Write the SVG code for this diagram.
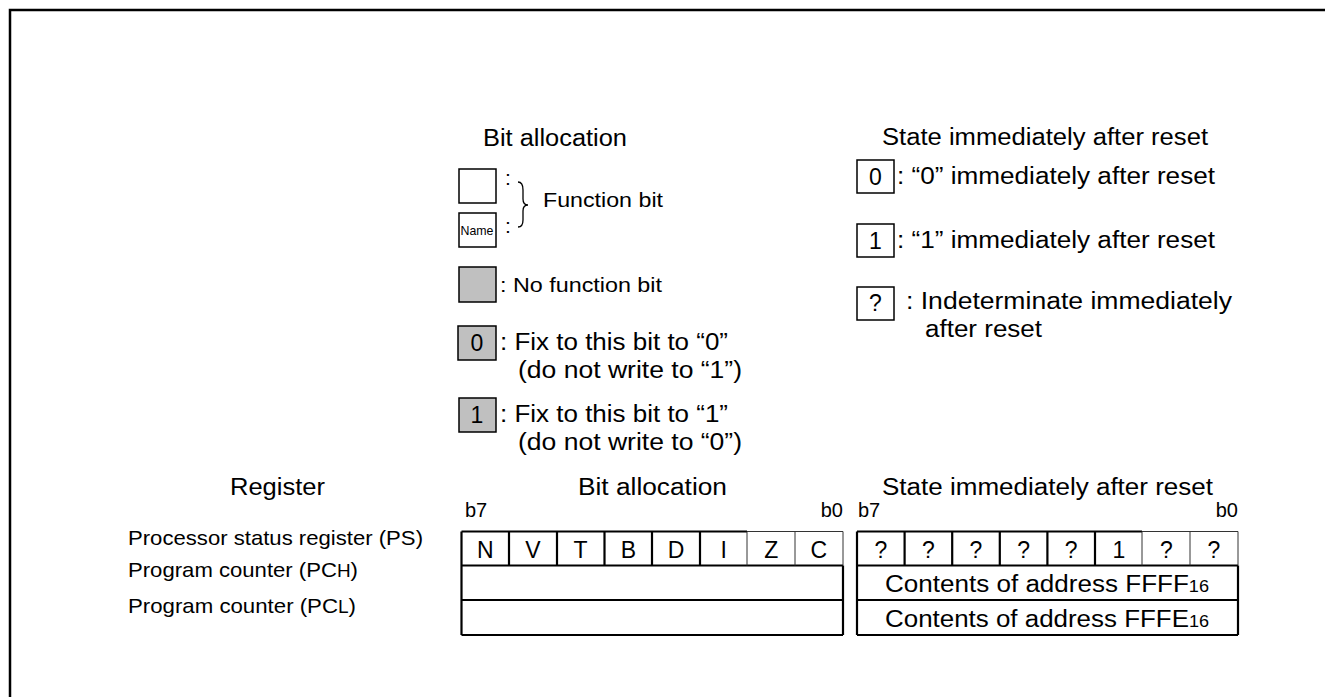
<svg xmlns="http://www.w3.org/2000/svg" width="1325" height="697" viewBox="0 0 1325 697">
<style>
text{font-family:"Liberation Sans",Arial,sans-serif;fill:#000}
.m{font-size:23px}
.s{font-size:21px}
.b{font-size:20px}
.c{text-anchor:middle;font-size:23px}
.box{fill:#fff;stroke:#000;stroke-width:1.5}
.grey{fill:#c0c0c0;stroke:#000;stroke-width:1.5}
.thick{stroke:#000;stroke-width:2.2;fill:none}
.thin{stroke:#333;stroke-width:1;fill:none}
</style>
<rect x="0" y="0" width="1325" height="697" fill="#fff"/>
<path d="M10,697 V10 H1325" fill="none" stroke="#000" stroke-width="2.5"/>

<g id="legend-bit-allocation">
  <text class="m" x="483" y="146" textLength="144" lengthAdjust="spacingAndGlyphs">Bit allocation</text>
  <rect class="box" x="459" y="169" width="37" height="34"/>
  <text class="s" x="505" y="185">:</text>
  <rect class="box" x="459" y="213" width="37" height="34"/>
  <text x="477" y="235" text-anchor="middle" font-size="13" textLength="33" lengthAdjust="spacingAndGlyphs">Name</text>
  <text class="s" x="505" y="233">:</text>
  <path d="M518,182 Q523,182 523,190 L523,199 Q523,205 528,205 Q523,205 523,211 L523,220 Q523,227 518,227" fill="none" stroke="#000" stroke-width="1.3"/>
  <text class="s" x="543" y="207" textLength="120" lengthAdjust="spacingAndGlyphs">Function  bit</text>
  <rect class="grey" x="459" y="267" width="37" height="35"/>
  <text class="s" x="500" y="292" textLength="162" lengthAdjust="spacingAndGlyphs">: No function bit</text>
  <rect class="grey" x="458" y="326" width="38" height="34"/>
  <text class="c" x="477" y="351">0</text>
  <text class="m" x="500" y="350" textLength="228" lengthAdjust="spacingAndGlyphs">: Fix to this bit to “0”</text>
  <text class="m" x="518" y="378" textLength="224" lengthAdjust="spacingAndGlyphs">(do not write to “1”)</text>
  <rect class="grey" x="459" y="398" width="37" height="34"/>
  <text class="c" x="477" y="423">1</text>
  <text class="m" x="500" y="422" textLength="228" lengthAdjust="spacingAndGlyphs">: Fix to this bit to “1”</text>
  <text class="m" x="518" y="450" textLength="224" lengthAdjust="spacingAndGlyphs">(do not write to “0”)</text>
</g>

<g id="legend-reset-state">
  <text class="m" x="882" y="145" textLength="326" lengthAdjust="spacingAndGlyphs">State immediately after reset</text>
  <rect class="box" x="857" y="160" width="37" height="33"/>
  <text class="c" x="875.5" y="185">0</text>
  <text class="m" x="897" y="184" textLength="318" lengthAdjust="spacingAndGlyphs">: “0” immediately after reset</text>
  <rect class="box" x="857" y="224" width="37" height="33"/>
  <text class="c" x="875.5" y="249">1</text>
  <text class="m" x="897" y="248" textLength="318" lengthAdjust="spacingAndGlyphs">: “1” immediately after reset</text>
  <rect class="box" x="857" y="287" width="37" height="33"/>
  <text class="c" x="875.5" y="311">?</text>
  <text class="m" x="906" y="309" textLength="326" lengthAdjust="spacingAndGlyphs">: Indeterminate immediately</text>
  <text class="m" x="925" y="337" textLength="117" lengthAdjust="spacingAndGlyphs">after reset</text>
</g>

<g id="headers">
  <text class="m" x="230" y="495" textLength="95" lengthAdjust="spacingAndGlyphs">Register</text>
  <text class="m" x="578" y="495" textLength="149" lengthAdjust="spacingAndGlyphs">Bit allocation</text>
  <text class="m" x="882" y="495" textLength="331" lengthAdjust="spacingAndGlyphs">State immediately after reset</text>
</g>

<g id="register-names">
  <text class="s" x="128" y="545" textLength="295" lengthAdjust="spacingAndGlyphs">Processor status register (PS)</text>
  <text class="s" x="128" y="577" textLength="230" lengthAdjust="spacingAndGlyphs">Program counter (PC<tspan font-size="18">H</tspan>)</text>
  <text class="s" x="128" y="613" textLength="228" lengthAdjust="spacingAndGlyphs">Program counter (PC<tspan font-size="18">L</tspan>)</text>
</g>

<g id="bit-allocation-table">
  <text class="b" x="465" y="517">b7</text>
  <text class="b" x="843" y="517" text-anchor="end">b0</text>
  <path class="thick" d="M461.5,531.5 H747 M461.5,531.5 V635 M461.5,565.5 H843 M461.5,600 H843 M461.5,635 H843 M843,565.5 V635 M509,531.5 V565.5 M557,531.5 V565.5 M604.5,531.5 V565.5 M652,531.5 V565.5 M700,531.5 V565.5"/>
  <path class="thin" d="M747,531.5 H843 V565.5 M747,531.5 V565.5 M795,531.5 V565.5"/>
  <text class="c" x="485.3" y="558">N</text>
  <text class="c" x="533" y="558">V</text>
  <text class="c" x="580.6" y="558">T</text>
  <text class="c" x="628.3" y="558">B</text>
  <text class="c" x="676" y="558">D</text>
  <text class="c" x="723.6" y="558">I</text>
  <text class="c" x="771.3" y="558">Z</text>
  <text class="c" x="818.9" y="558">C</text>
</g>

<g id="reset-state-table">
  <text class="b" x="858" y="517">b7</text>
  <text class="b" x="1238" y="517" text-anchor="end">b0</text>
  <path class="thick" d="M857,531.5 H1142 M857,531.5 V635 M857,565.5 H1238 M857,600 H1238 M857,635 H1238 M1238,565.5 V635 M904.6,531.5 V565.5 M952.2,531.5 V565.5 M999.8,531.5 V565.5 M1047.4,531.5 V565.5 M1095,531.5 V565.5"/>
  <path class="thin" d="M1142,531.5 H1238 V565.5 M1142,531.5 V565.5 M1190,531.5 V565.5"/>
  <text class="c" x="880.8" y="558">?</text>
  <text class="c" x="928.4" y="558">?</text>
  <text class="c" x="976" y="558">?</text>
  <text class="c" x="1023.6" y="558">?</text>
  <text class="c" x="1071.2" y="558">?</text>
  <text class="c" x="1118.8" y="558">1</text>
  <text class="c" x="1166.4" y="558">?</text>
  <text class="c" x="1214" y="558">?</text>
  <text class="m" x="885" y="592" textLength="324" lengthAdjust="spacingAndGlyphs">Contents of address FFFF<tspan font-size="16">16</tspan></text>
  <text class="m" x="885" y="627" textLength="324" lengthAdjust="spacingAndGlyphs">Contents of address FFFE<tspan font-size="16">16</tspan></text>
</g>
</svg>
